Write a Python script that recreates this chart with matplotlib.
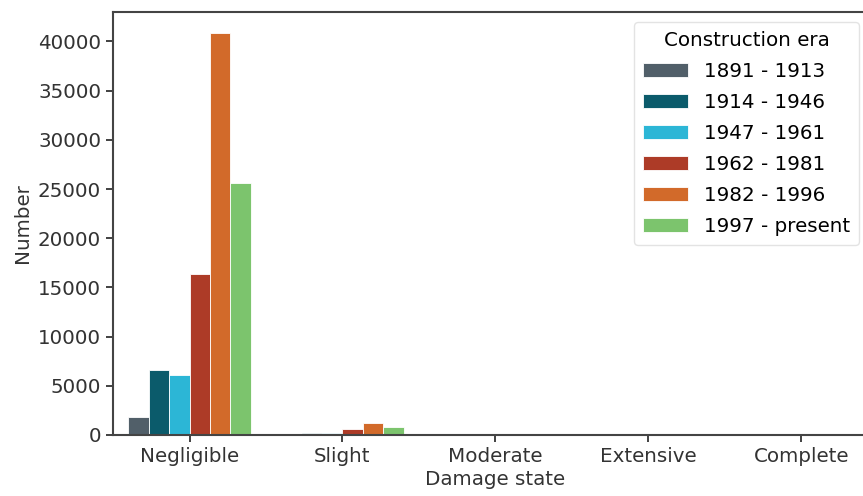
import matplotlib
matplotlib.use("Agg")
import matplotlib.pyplot as plt
import numpy as np

damage_states = ["Negligible", "Slight", "Moderate", "Extensive", "Complete"]
eras = ["1891 - 1913", "1914 - 1946", "1947 - 1961", "1962 - 1981", "1982 - 1996", "1997 - present"]
counts = {
    "1891 - 1913":    [1800, 50, 5, 0, 0],
    "1914 - 1946":    [6600, 250, 10, 0, 0],
    "1947 - 1961":    [6100, 200, 10, 0, 0],
    "1962 - 1981":    [16400, 600, 20, 2, 0],
    "1982 - 1996":    [40900, 1200, 30, 3, 0],
    "1997 - present": [25600, 800, 20, 2, 0],
}
colors = ["#515f69", "#0b5b6b", "#2cb6d6", "#ad3b27", "#d26a2a", "#7cc46d"]

FS = 14.3
plt.rcParams["font.family"] = ["DejaVu Sans"]
fig = plt.figure(figsize=(8.63, 4.96), dpi=100)
ax = fig.add_axes([0.131, 0.123, 0.886, 0.853])

n = len(eras)
group_w = 0.8
bw = group_w / n
x = np.arange(len(damage_states))
for i, era in enumerate(eras):
    offs = -group_w / 2 + bw * (i + 0.5)
    ax.bar(x + offs, counts[era], width=bw, color=colors[i], label=era,
           edgecolor="white", linewidth=0.6)

ax.set_xlim(-0.5, len(damage_states) - 0.5)
ax.set_ylim(0, 43000)
ax.set_xticks(x)
ax.set_xticklabels(damage_states)
ax.set_yticks(np.arange(0, 40001, 5000))
ax.tick_params(labelsize=FS, colors="#333333", width=1.3, length=5)
ax.set_xlabel("Damage state", fontsize=FS, color="#333333", labelpad=3)
ax.set_ylabel("Number", fontsize=FS, color="#333333", labelpad=4)
for s in ax.spines.values():
    s.set_color("#444444")
    s.set_linewidth(1.5)

leg = ax.legend(title="Construction era", loc="upper right",
                bbox_to_anchor=(0.989, 0.999), fontsize=FS, title_fontsize=FS,
                frameon=True, handlelength=2.3, handleheight=0.7,
                labelspacing=0.6, borderpad=0.45)
leg.get_frame().set_edgecolor("#dddddd")

fig.savefig("out.png", dpi=100)
